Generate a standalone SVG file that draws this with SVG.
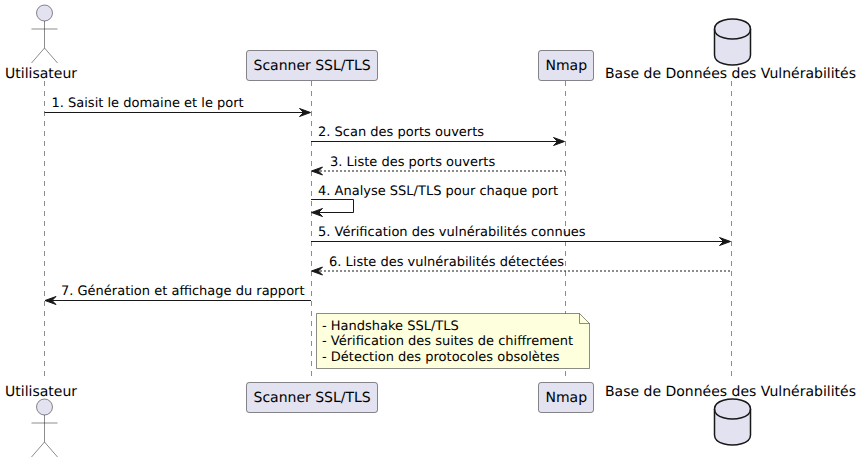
<svg xmlns="http://www.w3.org/2000/svg" width="861" height="463" viewBox="0 0 861 463">
<style>
text{font-family:"DejaVu Sans",sans-serif;fill:#000;text-rendering:geometricPrecision}
.p{font-size:14px}
.m,.n{font-size:13px}
.box{fill:#E2E2F0;stroke:#181818;stroke-width:.5}
.life{stroke:#181818;stroke-width:.5;stroke-dasharray:5,5;fill:none}
.act{fill:none;stroke:#181818;stroke-width:.5}
.db{fill:#E2E2F0;stroke:#181818;stroke-width:1.5}
.arrow{stroke:#181818;stroke-width:1;fill:none}
.dash{stroke-dasharray:2,2}
.head{fill:#181818;stroke:#181818;stroke-width:1}
</style>
<defs>
<polygon id="ar" class="head" points="0,0 -11,-4 -7,0 -11,4"/>
</defs>
<g id="lifelines">
<line class="life" x1="44.5" y1="81" x2="44.5" y2="381"/>
<line class="life" x1="311.5" y1="81" x2="311.5" y2="381"/>
<line class="life" x1="565.5" y1="81" x2="565.5" y2="381"/>
<line class="life" x1="731.5" y1="81" x2="731.5" y2="381"/>
</g>
<g id="connectors">
<line class="arrow" x1="44.5" y1="112.5" x2="310" y2="112.5"/><use href="#ar" transform="translate(310.5 112.5)"/>
<line class="arrow" x1="311" y1="141.5" x2="564" y2="141.5"/><use href="#ar" transform="translate(564.5 141.5)"/>
<line class="arrow dash" x1="312" y1="171" x2="565" y2="171"/><use href="#ar" transform="translate(311.5 171) rotate(180)"/>
<path class="arrow" d="M311 199.5H353.5V212.5H312"/><use href="#ar" transform="translate(311.5 212.5) rotate(180)"/>
<line class="arrow" x1="311" y1="241.5" x2="730" y2="241.5"/><use href="#ar" transform="translate(730.5 241.5)"/>
<line class="arrow dash" x1="312" y1="271" x2="731" y2="271"/><use href="#ar" transform="translate(311.5 271) rotate(180)"/>
<line class="arrow" x1="45" y1="300.5" x2="311" y2="300.5"/><use href="#ar" transform="translate(45 300.5) rotate(180)"/>
</g>
<g id="labels">
<text class="m" x="51.5" y="107">1. Saisit le domaine et le port</text>
<text class="m" x="318" y="136">2. Scan des ports ouverts</text>
<text class="m" x="330" y="166">3. Liste des ports ouverts</text>
<text class="m" x="318" y="195">4. Analyse SSL/TLS pour chaque port</text>
<text class="m" x="318" y="236">5. Vérification des vulnérabilités connues</text>
<text class="m" x="329" y="266">6. Liste des vulnérabilités détectées</text>
<text class="m" x="61" y="295">7. Génération et affichage du rapport</text>
</g>
<g id="note">
<path d="M316.5 313.5H579.5L589.5 323.5V368.5H316.5Z" fill="#FEFFDD" stroke="#181818" stroke-width=".5"/>
<path d="M579.5 313.5V323.5H589.5" fill="none" stroke="#181818" stroke-width=".5"/>
<text class="n" x="322" y="330">- Handshake SSL/TLS</text>
<text class="n" x="322" y="345">- Vérification des suites de chiffrement</text>
<text class="n" x="322" y="361">- Détection des protocoles obsolètes</text>
</g>
<g id="actor-top">
<circle class="box" cx="44.5" cy="13" r="8"/>
<path class="act" d="M44.5 21V48M31.5 29H57.5M44.5 48L31.5 63M44.5 48L57.5 63"/>
<text class="p" x="5" y="78">Utilisateur</text>
</g>
<g id="scanner-top">
<rect class="box" x="246.5" y="50.5" width="131" height="30" rx="2.5"/>
<text class="p" x="253.5" y="70">Scanner SSL/TLS</text>
</g>
<g id="nmap-top">
<rect class="box" x="538.5" y="50.5" width="55" height="30" rx="2.5"/>
<text class="p" x="545.5" y="70">Nmap</text>
</g>
<g id="db-top">
<path class="db" d="M714.5 29C714.5 19 732.5 19 732.5 19C732.5 19 750.5 19 750.5 29V55C750.5 65 732.5 65 732.5 65C732.5 65 714.5 65 714.5 55Z"/>
<path class="db" style="fill:none" d="M714.5 29C714.5 39 732.5 39 732.5 39C732.5 39 750.5 39 750.5 29"/>
<text class="p" x="605" y="78">Base de Données des Vulnérabilités</text>
</g>
<g id="actor-bottom">
<circle class="box" cx="44.5" cy="407" r="8"/>
<path class="act" d="M44.5 415V442M31.5 423H57.5M44.5 442L31.5 457M44.5 442L57.5 457"/>
<text class="p" x="5" y="396">Utilisateur</text>
</g>
<g id="scanner-bottom">
<rect class="box" x="246.5" y="382.5" width="131" height="30" rx="2.5"/>
<text class="p" x="253.5" y="402">Scanner SSL/TLS</text>
</g>
<g id="nmap-bottom">
<rect class="box" x="538.5" y="382.5" width="55" height="30" rx="2.5"/>
<text class="p" x="545.5" y="402">Nmap</text>
</g>
<g id="db-bottom">
<path class="db" d="M714.5 409C714.5 399 732.5 399 732.5 399C732.5 399 750.5 399 750.5 409V435C750.5 445 732.5 445 732.5 445C732.5 445 714.5 445 714.5 435Z"/>
<path class="db" style="fill:none" d="M714.5 409C714.5 419 732.5 419 732.5 419C732.5 419 750.5 419 750.5 409"/>
<text class="p" x="605" y="396">Base de Données des Vulnérabilités</text>
</g>
</svg>
